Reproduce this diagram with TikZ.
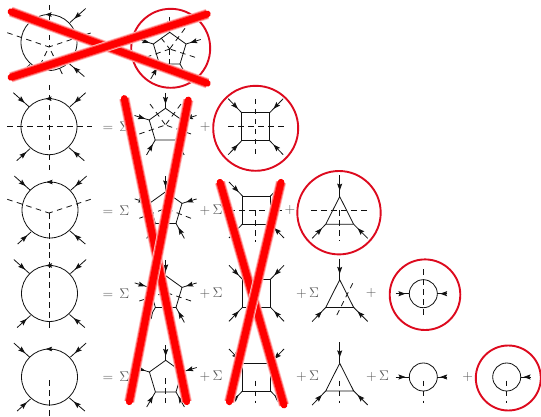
\documentclass[tikz,border=0pt]{standalone}
\usepackage{fix-cm}
\usetikzlibrary{arrows.meta,decorations.markings}
\definecolor{ink}{HTML}{111111}
\definecolor{signgray}{HTML}{555555}
\definecolor{ringred}{HTML}{DD0A1E}
\tikzset{
  line/.style={
    draw=ink,
    line width=0.8pt
  },
  leg/.style={
    line,
    postaction={decorate},
    decoration={markings,
      mark=at position 0.72 with {\arrow{Stealth[length=7pt,width=5pt,inset=1.2pt]}}}
  },
  flow/.style={
    draw=ink,
    line width=0.6pt,
    -{Stealth[length=6pt,width=4.5pt,inset=1pt]}
  },
  prong/.style={
    draw=ink,
    line width=0.8pt,
    dash pattern=on 5.5pt off 4.5pt
  },
  sign/.style={
    text=signgray,
    inner sep=0pt,
    font=\fontsize{14}{16}\selectfont
  },
  ring/.style={
    draw=ringred,
    line width=1.9pt
  },
  strike/.style={
    draw=red,
    line cap=round,
    line width=6.8pt,
    preaction={draw=red!25,line width=10.5pt},
    preaction={draw=red!65,line width=8.8pt}
  },
  bigloop/.pic={
    \coordinate (-c) at (0,0);
    \draw[line] (-c) circle (28);
    \draw[flow] (3,-28) -- (-3.5,-28);
    \draw[leg] (-35.7,-34) -- (-20,-20);
    \draw[leg] (36.7,-34) -- (21,-20);
    \draw[leg] (-32.3,34) -- (-19,22);
    \draw[leg] (35.3,34) -- (20,21);
  },
  pentaloop/.pic={
    \coordinate (-c) at (0,0);
    \coordinate (-t) at (0,-16.7);
    \coordinate (-r) at (16.3,-5);
    \coordinate (-q) at (10.3,15);
    \coordinate (-p) at (-10.3,15);
    \coordinate (-l) at (-16.3,-5);
    \draw[line] (-t) -- (-r) -- (-q) -- (-p) -- (-l) -- cycle;
    \draw[leg] (0,-32) -- (-t);
    \draw[leg] (31,-9.5) -- (-r);
    \draw[leg] (18.7,30) -- (-q);
    \draw[leg] (-19,30) -- (-p);
    \draw[leg] (-31,-9.5) -- (-l);
  },
  boxloop/.pic={
    \coordinate (-c) at (0,0);
    \draw[line] (-14,-14) rectangle (14,14);
    \draw[leg] (-27.5,-28) -- (-14,-14);
    \draw[leg] (27.5,-28) -- (14,-14);
    \draw[leg] (-27.5,28) -- (-14,14);
    \draw[leg] (27.5,28) -- (14,14);
  },
  triloop/.pic={
    \coordinate (-t) at (0,-13.7);
    \coordinate (-q) at (14,14);
    \coordinate (-p) at (-14,14);
    \draw[line] (-t) -- (-q) -- (-p) -- cycle;
    \draw[leg] (0,-35) -- (-t);
    \draw[leg] (28,28) -- (-q);
    \draw[leg] (-27.5,28) -- (-p);
  },
  bubbleloop/.pic={
    \draw[line] (0,0) circle (14);
    \draw[leg] (24,0) -- (14,0);
  }
}

\begin{document}
\begin{tikzpicture}[x=1pt,y=-1pt]
  \useasboundingbox (0,0) rectangle (541,417);

  % top row
  \pic (ca) at (49,42.5) {bigloop};
  \coordinate (ca-m) at (49,47);
  \draw[prong] (49,5) -- (ca-m);
  \draw[prong] (7.3,32.7) -- (ca-m);
  \draw[prong] (90.7,33) -- (ca-m);
  \draw[prong] (35.7,74) -- (ca-m);
  \draw[prong] (62.3,74) -- (ca-m);

  \pic (pa) at (169.7,49) {pentaloop};
  \draw[prong] (155,30) -- (pa-c);
  \draw[prong] (185,28.3) -- (pa-c);
  \draw[prong] (146,57.3) -- (pa-c);
  \draw[prong] (195,57.3) -- (pa-c);
  \draw[prong] (169.7,75) -- (pa-c);
  \draw[ring] (170.7,48.3) circle (39.5);

  % second row
  \pic (cb) at (49,126.7) {bigloop};
  \draw[prong] (7.3,126.7) -- (91.7,126.7);
  \draw[prong] (49,85) -- (49,170);
  \node[sign] (eqb) at (116,127) {$=\,\Sigma$};

  \pic (pb) at (165.5,125) {pentaloop};
  \draw[prong] (150,104) -- (pb-c);
  \draw[prong] (181,104) -- (pb-c);
  \draw[prong] (139.3,134) -- (pb-c);
  \draw[prong] (191,134) -- (pb-c);
  \node[sign] (plb) at (205.3,126.7) {$+$};

  \pic (sb) at (255.7,126.7) {boxloop};
  \draw[prong] (228,126.7) -- (284,126.7);
  \draw[prong] (255.7,99) -- (255.7,155);
  \draw[ring] (255.7,128.3) circle (42.5);

  % third row
  \pic (cc) at (50,210) {bigloop};
  \coordinate (cc-m) at (49,213);
  \draw[prong] (7.3,199.3) -- (cc-m);
  \draw[prong] (90.7,199.3) -- (cc-m);
  \draw[prong] (cc-m) -- (49,250);
  \node[sign] (eqc) at (116,211) {$=\,\Sigma$};

  \pic (pc) at (165.7,208.4) {pentaloop};
  \draw[prong] (139.3,218.3) -- (pc-c);
  \draw[prong] (191,218.3) -- (pc-c);
  \node[sign] (sumc) at (211,210) {${+}\,\Sigma$};

  \pic (sc) at (256.5,210) {boxloop};
  \draw[prong] (229,210) -- (282,210);
  \draw[prong] (255.7,210) -- (255.7,241.5);
  \node[sign] (plc) at (290,210) {$+$};

  \pic (tc) at (339.7,210.3) {triloop};
  \draw[prong] (311,210.3) -- (367.3,210.3);
  \draw[prong] (339.7,210.3) -- (339.7,241);
  \draw[ring] (339,212.7) circle (41.7);

  % fourth row
  \pic (cd) at (49.5,293.5) {bigloop};
  \draw[prong] (49,252) -- (49,331);
  \node[sign] (eqd) at (116,294) {$=\,\Sigma$};

  \pic (pd) at (165.7,292.4) {pentaloop};
  \draw[prong] (139.3,301) -- (pd-c);
  \draw[prong] (191,301) -- (pd-c);
  \node[sign] (sumd) at (211,293.3) {${+}\,\Sigma$};

  \pic (sd) at (256.5,293.3) {boxloop};
  \draw[prong] (255.7,269) -- (255.7,293.3);
  \node[sign] (sume) at (307.5,293.3) {${+}\,\Sigma$};

  \pic (td) at (339.7,293.5) {triloop};
  \draw[prong] (352.7,283.3) -- (336,316.7);
  \node[sign] (pld) at (371.2,293.3) {$+$};

  \pic (bd) at (423.3,293.7) {bubbleloop};
  \draw[leg] (395.7,293.7) -- (409.3,293.7);
  \draw[prong] (423.3,269) -- (423.3,317.3);
  \draw[ring] (425,294.7) circle (35.3);

  % bottom row
  \pic (ce) at (49.5,377) {bigloop};
  \draw[prong] (49,380) -- (49,417);
  \node[sign] (eqe) at (116,376.7) {$=\,\Sigma$};

  \pic (pe) at (165.7,377) {pentaloop};
  \draw[prong] (165.7,378) -- (165.7,403.3);
  \node[sign] (sumf) at (211,376.7) {${+}\,\Sigma$};

  \pic (se) at (256.5,377) {boxloop};
  \draw[prong] (255.7,380.7) -- (255.7,403.3);
  \node[sign] (sumg) at (307.5,376.7) {${+}\,\Sigma$};

  \pic (te) at (339.7,377) {triloop};
  \draw[prong] (339.7,380.7) -- (339.7,403.3);
  \node[sign] (sumh) at (377.5,376.7) {${+}\,\Sigma$};

  \pic (be) at (423.3,377) {bubbleloop};
  \draw[leg] (395.7,377) -- (409.3,377);
  \draw[prong] (423.3,380.7) -- (423.3,403.3);
  \node[sign] (ple) at (467.8,376.7) {$+$};

  \pic (bf) at (506.7,377) {bubbleloop};
  \draw[prong] (506.7,380.7) -- (506.7,403.3);
  \draw[ring] (508.3,378) circle (32.5);

  % crossed out terms
  \draw[strike] (11,11.7) -- (207.3,83.3);
  \draw[strike] (11,77.3) -- (207.3,14);
  \draw[strike] (124.3,98.5) -- (186.7,401.7);
  \draw[strike] (188.3,100) -- (129.3,401.7);
  \draw[strike] (220,182.3) -- (284,405);
  \draw[strike] (281,182.3) -- (229.3,401.7);
\end{tikzpicture}
\end{document}
